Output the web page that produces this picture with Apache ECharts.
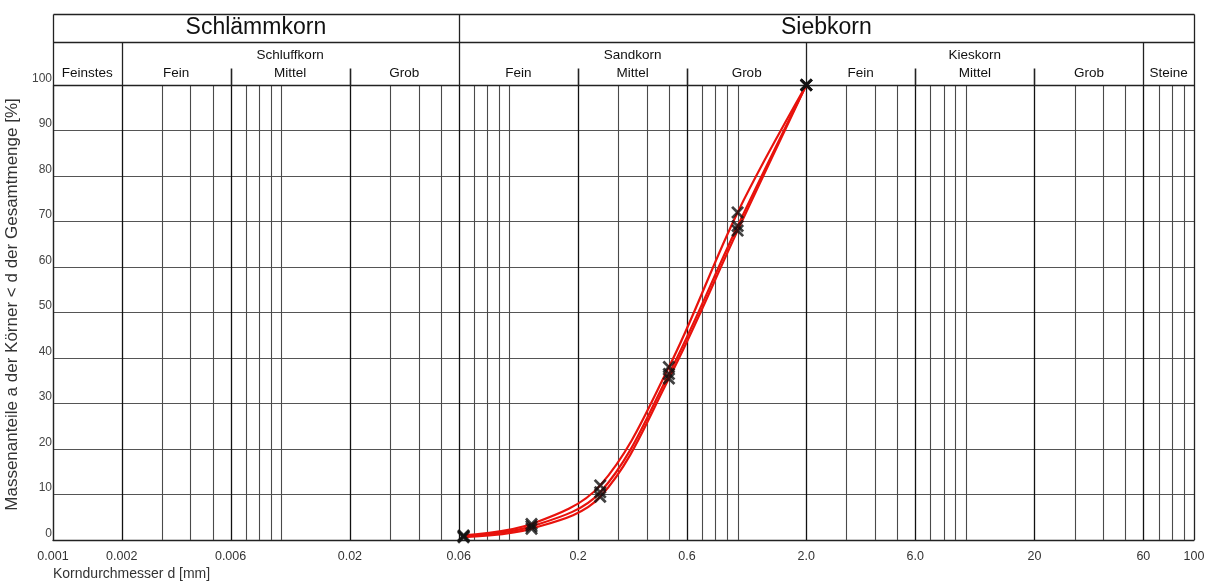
<!DOCTYPE html>
<html>
<head>
<meta charset="utf-8">
<script src="https://cdn.jsdelivr.net/npm/echarts@6/dist/echarts.min.js"></script>
<style>html,body{margin:0;padding:0;background:#fff}#c{width:1206px;height:583px}</style>
</head>
<body>
<div id="c"></div>
<script>
// ---- data ----
const sieveSizes = [0.063, 0.125, 0.25, 0.5, 1.0, 2.0];
const curveA = [1.0, 3.5, 12.0, 38.0, 72.0, 100];
const curveB = [0.8, 3.0, 10.5, 36.5, 69.0, 100];
const curveC = [0.6, 2.5, 9.5, 35.5, 68.0, 100];

const xTickValues = [0.001, 0.002, 0.006, 0.02, 0.06, 0.2, 0.6, 2, 6, 20, 60, 100];
const xTickLabels = ['0.001', '0.002', '0.006', '0.02', '0.06', '0.2', '0.6', '2.0', '6.0', '20', '60', '100'];
const xGridValues = [
  0.002, 0.003, 0.004, 0.005, 0.006, 0.007, 0.008, 0.009, 0.01,
  0.02, 0.03, 0.04, 0.05, 0.06, 0.07, 0.08, 0.09, 0.1,
  0.2, 0.3, 0.4, 0.5, 0.6, 0.7, 0.8, 0.9, 1,
  2, 3, 4, 5, 6, 7, 8, 9, 10,
  20, 30, 40, 50, 60, 70, 80, 90
];
const majorValues = [0.002, 0.006, 0.02, 0.06, 0.2, 0.6, 2, 6, 20, 60];

const mainBandNames = ['Schlämmkorn', 'Siebkorn'];
const mainBandEdges = [[0.001, 0.06], [0.06, 100]];
const groupBandNames = ['Schluffkorn', 'Sandkorn', 'Kieskorn'];
const groupBandEdges = [[0.002, 0.06], [0.06, 2], [2, 60]];
const subBandNames = ['Feinstes', 'Fein', 'Mittel', 'Grob', 'Fein', 'Mittel', 'Grob', 'Fein', 'Mittel', 'Grob', 'Steine'];
const subBandEdges = [[0.001, 0.002], [0.002, 0.006], [0.006, 0.02], [0.02, 0.06], [0.06, 0.2], [0.2, 0.6], [0.6, 2], [2, 6], [6, 20], [20, 60], [60, 100]];
const rowDividers = [0.002, 0.06, 2, 60];
const mainDividers = [0.06];
const shortTicks = [0.006, 0.02, 0.2, 0.6, 6, 20];

const yName = 'Massenanteile a der Körner < d der Gesamtmenge [%]';
const xName = 'Korndurchmesser d [mm]';

// ---- chart ----
const FONT = "'Liberation Sans', Arial, Helvetica, sans-serif";
const chart = echarts.init(document.getElementById('c'), null, {renderer: 'canvas'});
const crisp = v => Math.round(v) + 0.5;
const isMajor = v => majorValues.some(m => Math.abs(m - v) / m < 1e-6);

function gridRender(params, api) {
  const v = api.value(0);
  const p0 = api.coord([v, 0]);
  const p1 = api.coord([v, 100]);
  const x = crisp(p0[0]);
  const major = isMajor(v);
  return {
    type: 'line',
    shape: {x1: x, y1: p0[1], x2: x, y2: p1[1]},
    style: {stroke: major ? '#111' : '#4a4a4a', lineWidth: major ? 1.3 : 1.1}
  };
}

function headerRender(params, api) {
  const top = api.coord([0.001, 100])[1];
  const bottom = api.coord([0.001, 0])[1];
  const xl = crisp(api.coord([0.001, 100])[0]);
  const xr = crisp(api.coord([100, 100])[0]);
  const yTop = crisp(top - 71);
  const yRow = crisp(top - 43);
  const yPlot = crisp(top);
  const X = v => crisp(api.coord([v, 100])[0]);
  const mid = e => (api.coord([e[0], 100])[0] + api.coord([e[1], 100])[0]) / 2;
  const stroke = '#222';
  const kids = [];
  const line = (x1, y1, x2, y2, w) => kids.push({type: 'line', shape: {x1, y1, x2, y2}, style: {stroke, lineWidth: w || 1.3}});
  line(xl, yTop, xr, yTop);
  line(xl, yRow, xr, yRow);
  line(xl, yPlot, xr, yPlot, 1.6);
  line(xl, yTop, xl, bottom);
  line(xr, yTop, xr, bottom);
  rowDividers.forEach(v => line(X(v), yRow, X(v), yPlot));
  mainDividers.forEach(v => line(X(v), yTop, X(v), yRow));
  shortTicks.forEach(v => line(X(v), yPlot - 17, X(v), yPlot, 1.6));
  const text = (x, y, t, size) => kids.push({
    type: 'text',
    style: {x, y, text: t, fill: '#111', fontSize: size, fontFamily: FONT, align: 'center', verticalAlign: 'middle'}
  });
  mainBandNames.forEach((n, i) => text(mid(mainBandEdges[i]), top - 57, n, 23));
  groupBandNames.forEach((n, i) => text(mid(groupBandEdges[i]), top - 30, n, 13.5));
  subBandNames.forEach((n, i) => text(mid(subBandEdges[i]), top - 12, n, 13.5));
  return {type: 'group', children: kids};
}

const xSymbol = 'path://M0,1.5L1.5,0L5,3.5L8.5,0L10,1.5L6.5,5L10,8.5L8.5,10L5,6.5L1.5,10L0,8.5L3.5,5Z';
const curves = [curveA, curveB, curveC];
const lineSeries = curves.map((c, k) => ({
  type: 'line', name: 'Probe ' + (k + 1),
  data: sieveSizes.map((s, i) => [s, c[i]]),
  smooth: 0.35, showSymbol: false, z: 5,
  lineStyle: {color: '#e8120c', width: 2.2}
}));
const markSeries = curves.map((c, k) => ({
  type: 'scatter', name: 'Messpunkte ' + (k + 1),
  data: sieveSizes.map((s, i) => [s, c[i]]),
  symbol: xSymbol, symbolSize: 13, z: 6,
  itemStyle: {color: '#111'}
}));

chart.setOption({
  animation: false,
  textStyle: {fontFamily: FONT},
  grid: {left: 53, right: 12, top: 85, bottom: 43, containLabel: false, outerBoundsMode: 'none'},
  xAxis: {
    type: 'log', logBase: 10, min: 0.001, max: 100,
    axisLine: {show: true, onZero: false, lineStyle: {color: '#222', width: 1.3}},
    axisTick: {show: false},
    splitLine: {show: false},
    minorSplitLine: {show: false},
    axisLabel: {
      customValues: xTickValues,
      formatter: function (val) {
        let best = 0, bd = Infinity;
        xTickValues.forEach((t, i) => { const d = Math.abs(Math.log(t) - Math.log(val)); if (d < bd) { bd = d; best = i; } });
        return xTickLabels[best];
      },
      color: '#333', fontSize: 12.5, margin: 10, showMinLabel: true, showMaxLabel: true, hideOverlap: false
    }
  },
  yAxis: {
    type: 'value', min: 0, max: 100, interval: 10,
    name: yName, nameLocation: 'middle', nameGap: 21,
    nameTextStyle: {color: '#333', fontSize: 17, fontFamily: FONT, padding: [0, 0, 0, 16]},
    axisLine: {show: true, lineStyle: {color: '#444', width: 1.2}},
    axisTick: {show: false},
    splitLine: {show: true, lineStyle: {color: '#555', width: 1.1}},
    axisLabel: {color: '#444', fontSize: 12, margin: 1, verticalAlign: 'bottom', lineHeight: 13}
  },
  graphic: [{
    type: 'text', left: 53, top: 567,
    style: {text: xName, fill: '#333', fontSize: 14, fontFamily: FONT}
  }],
  series: [
    {type: 'custom', name: 'raster', silent: true, z: 1, clip: false,
     data: xGridValues.map(v => [v, 0]), encode: {x: 0, y: 1}, renderItem: gridRender},
    {type: 'custom', name: 'kopf', silent: true, z: 2, clip: false,
     data: [[0.001, 0]], encode: {x: 0, y: 1}, renderItem: headerRender}
  ].concat(lineSeries, markSeries)
});
</script>
</body>
</html>
